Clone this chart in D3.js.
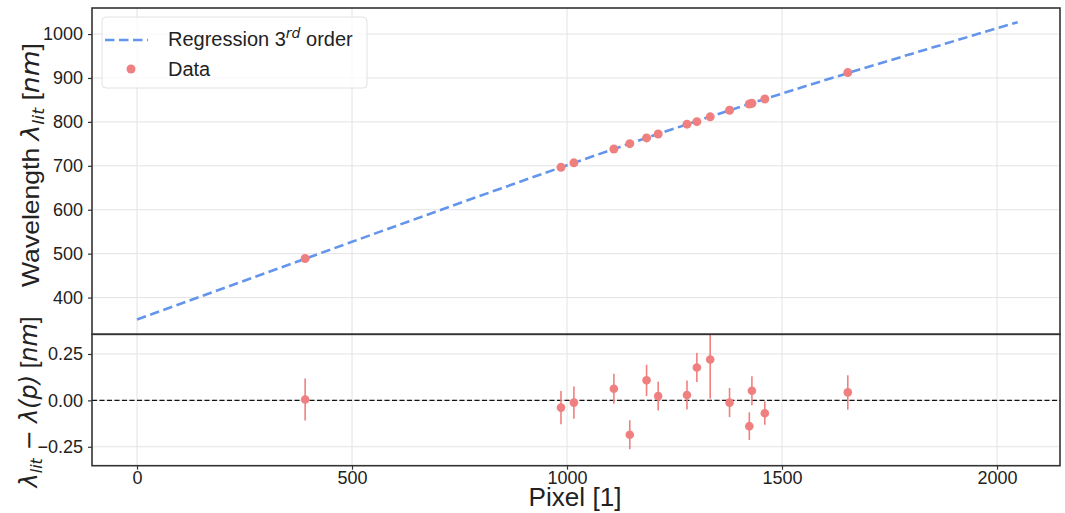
<!DOCTYPE html>
<html><head><meta charset="utf-8">
<script src="https://cdn.jsdelivr.net/npm/d3@7"></script>
<style>
body{margin:0;background:#fff;}
text{font-family:"Liberation Sans",Arial,sans-serif;fill:#222;}
.math{font-family:"DejaVu Sans",sans-serif;font-style:italic;}
</style></head>
<body><svg id="c" width="1065" height="513"></svg>
<script>
// ---- data ----
const pixels     = [391, 986, 1016, 1109, 1146, 1185, 1212, 1279, 1302, 1333, 1378, 1424, 1430, 1460, 1653];
const wavelength = [489.0, 696.5, 706.7, 738.4, 750.4, 763.5, 772.4, 794.8, 800.6, 811.5, 826.5, 840.8, 842.5, 852.1, 912.3];
const residual   = [0.005, -0.039, -0.012, 0.063, -0.185, 0.108, 0.023, 0.029, 0.177, 0.220, -0.012, -0.139, 0.052, -0.069, 0.043];
const resErr     = [0.113, 0.090, 0.087, 0.081, 0.078, 0.084, 0.077, 0.078, 0.078, 0.210, 0.078, 0.075, 0.078, 0.063, 0.093];
const regPixel   = [0, 500, 1000, 1500, 2048];
const regWave    = [350, 527, 701.3, 864.5, 1027];
const xTicks     = [0, 500, 1000, 1500, 2000];
const yTopTicks  = [400, 500, 600, 700, 800, 900, 1000];
const yBotTicks  = [-0.25, 0.00, 0.25];

const svg = d3.select("#c");
const L = 92, R = 1060, T1 = 8, B1 = 334.3, B2 = 465.7;
const gridC = "#e3e3e3", frameC = "#333", lineC = "#6495ED", ptC = "#F08080";

const x = d3.scaleLinear().domain([-104.7, 2146.5]).range([L, R]);
const yT = d3.scaleLinear().domain([316.4, 1059.3]).range([B1, T1]);
const yB = d3.scaleLinear().domain([-0.352, 0.356]).range([B2, B1]);

const defs = svg.append("defs");
defs.append("clipPath").attr("id","clipB")
  .append("rect").attr("x",L).attr("y",B1).attr("width",R-L).attr("height",B2-B1);
defs.append("clipPath").attr("id","clipT")
  .append("rect").attr("x",L).attr("y",T1).attr("width",R-L).attr("height",B1-T1);

// grids
function grid(yScale, yTicks, top, bottom){
  const g = svg.append("g");
  g.selectAll(".gx").data(xTicks).join("line")
    .attr("x1",d=>x(d)).attr("x2",d=>x(d)).attr("y1",top).attr("y2",bottom)
    .attr("stroke",gridC).attr("stroke-width",1);
  g.selectAll(".gy").data(yTicks).join("line")
    .attr("x1",L).attr("x2",R).attr("y1",d=>yScale(d)).attr("y2",d=>yScale(d))
    .attr("stroke",gridC).attr("stroke-width",1);
}
grid(yT, yTopTicks, T1, B1);
grid(yB, yBotTicks, B1, B2);

// top panel: regression line
const regData = regPixel.map((p,i)=>[p, regWave[i]]);
svg.append("path").datum(regData)
  .attr("clip-path","url(#clipT)")
  .attr("d", d3.line().x(d=>x(d[0])).y(d=>yT(d[1])).curve(d3.curveNatural))
  .attr("fill","none").attr("stroke",lineC).attr("stroke-width",2.6)
  .attr("stroke-dasharray","9.5,4.5");

// top panel points
svg.append("g").selectAll("circle").data(pixels).join("circle")
  .attr("cx",(d)=>x(d)).attr("cy",(d,i)=>yT(wavelength[i])).attr("r",4.5)
  .attr("fill",ptC);

// bottom panel: zero line
svg.append("line").attr("x1",L).attr("x2",R).attr("y1",yB(0)).attr("y2",yB(0))
  .attr("stroke","#111").attr("stroke-width",1.4).attr("stroke-dasharray","5,2.5");

const gb = svg.append("g").attr("clip-path","url(#clipB)");
gb.selectAll("line.err").data(pixels).join("line")
  .attr("x1",d=>x(d)).attr("x2",d=>x(d))
  .attr("y1",(d,i)=>yB(residual[i]-resErr[i])).attr("y2",(d,i)=>yB(residual[i]+resErr[i]))
  .attr("stroke",ptC).attr("stroke-width",1.6);
gb.selectAll("circle").data(pixels).join("circle")
  .attr("cx",d=>x(d)).attr("cy",(d,i)=>yB(residual[i])).attr("r",4.3)
  .attr("fill",ptC);

// frames
svg.append("rect").attr("x",L).attr("y",T1).attr("width",R-L).attr("height",B1-T1)
  .attr("fill","none").attr("stroke",frameC).attr("stroke-width",1.6);
svg.append("rect").attr("x",L).attr("y",B1).attr("width",R-L).attr("height",B2-B1)
  .attr("fill","none").attr("stroke",frameC).attr("stroke-width",1.6);

// axes
const fs = 18;
const axT = svg.append("g").attr("transform",`translate(${L},0)`)
  .call(d3.axisLeft(yT).tickValues(yTopTicks).tickSize(4).tickPadding(5).tickFormat(d3.format("d")));
const axB = svg.append("g").attr("transform",`translate(${L},0)`)
  .call(d3.axisLeft(yB).tickValues(yBotTicks).tickSize(4).tickPadding(5)
    .tickFormat(d=> d<0 ? "\u22120.25" : d3.format(".2f")(d)));
const axX = svg.append("g").attr("transform",`translate(0,${B2})`)
  .call(d3.axisBottom(x).tickValues(xTicks).tickSize(4).tickPadding(2).tickFormat(d3.format("d")));
[axT,axB,axX].forEach(a=>{
  a.select(".domain").remove();
  a.selectAll(".tick line").attr("stroke",frameC).attr("stroke-width",1.2);
  a.selectAll(".tick text").attr("font-size",fs).attr("fill","#222")
    .style("font-family","'Liberation Sans',Arial,sans-serif");
});

// helper: stretch a text along its own direction to a target length
function fitText(sel, cx, cy, rot, target){
  sel.attr("text-anchor","middle").attr("x",0).attr("y",0);
  const w = sel.node().getComputedTextLength();
  const s = target / w;
  sel.attr("transform",`translate(${cx},${cy}) rotate(${rot}) scale(${s},1)`);
}

// axis labels
const xl = svg.append("text").attr("font-size",25).text("Pixel [1]");
fitText(xl, 575, 506, 0, 93);

const lt = svg.append("text").attr("font-size",24);
lt.append("tspan").text("Wavelength ");
lt.append("tspan").attr("class","math").text("λ");
lt.append("tspan").attr("class","math").attr("font-size",16).attr("dy",5).text("lit");
lt.append("tspan").attr("dy",-5).text(" [");
lt.append("tspan").attr("class","math").text("nm");
lt.append("tspan").text("]");
fitText(lt, 39, 165, -90, 244);

const lb = svg.append("text").attr("font-size",24);
lb.append("tspan").attr("class","math").text("λ");
lb.append("tspan").attr("class","math").attr("font-size",16).attr("dy",5).text("lit");
lb.append("tspan").attr("dy",-5).attr("class","math").style("font-style","normal").text(" \u2212 ");
lb.append("tspan").attr("class","math").text("λ(p)");
lb.append("tspan").text(" [");
lb.append("tspan").attr("class","math").text("nm");
lb.append("tspan").text("]");
fitText(lb, 37, 402, -90, 171);

// legend
const lg = svg.append("g");
lg.append("rect").attr("x",102).attr("y",17).attr("width",265).attr("height",71).attr("rx",4)
  .attr("fill","#fff").attr("fill-opacity",0.8).attr("stroke","#e2e2e2").attr("stroke-width",1);
lg.append("line").attr("x1",105).attr("x2",148).attr("y1",40).attr("y2",40)
  .attr("stroke",lineC).attr("stroke-width",2.6).attr("stroke-dasharray","9.5,4.5");
const l1 = lg.append("text").attr("x",168).attr("y",46).attr("font-size",20);
l1.append("tspan").text("Regression 3");
l1.append("tspan").attr("class","math").attr("font-size",14).attr("dy",-8).text("rd");
l1.append("tspan").attr("dy",8).text(" order");
lg.append("circle").attr("cx",131).attr("cy",69).attr("r",4.5).attr("fill",ptC);
lg.append("text").attr("x",168).attr("y",76).attr("font-size",20).text("Data");
</script></body></html>
